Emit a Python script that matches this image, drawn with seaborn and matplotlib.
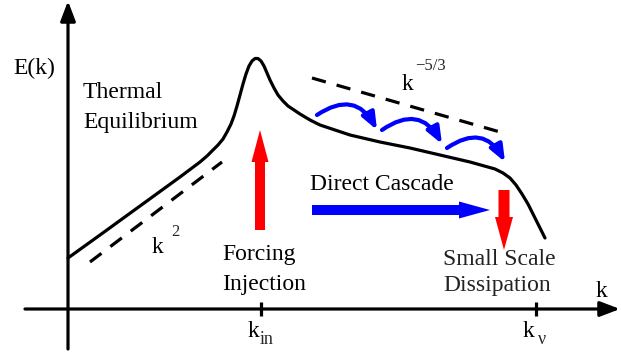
import matplotlib
matplotlib.use("Agg")
import matplotlib.pyplot as plt
from matplotlib.patches import FancyArrowPatch
import seaborn as sns
import pandas as pd

sns.set_style("white")
plt.rcParams["font.family"] = ["Liberation Serif", "DejaVu Serif"]

# Energy spectrum E(k), schematic (canvas units, y grows downward)
spec_k = [68, 100, 140, 180, 200, 207, 213, 218, 223, 227, 231, 234, 237, 240,
          243, 246, 249, 252, 255, 258, 261, 264, 267, 270, 274, 278, 283, 288,
          294, 300, 310, 320, 335, 350, 380, 410, 440, 470, 495, 503, 510, 516,
          522, 528, 533, 538, 542, 545]
spec_E = [258, 235, 206, 177, 162, 156, 150, 145, 139, 132, 124, 116, 106, 95,
          84, 74, 66, 61, 58.5, 58.5, 61, 66, 73, 80, 88, 95, 101, 106,
          110, 114, 120, 125, 130, 135, 142, 148, 155, 162, 169, 173, 178, 185,
          194, 204, 214, 224, 232, 238]

# Reference power laws
k2_k = [90, 222]
k2_E = [262, 162]
kol_k = [312, 507]
kol_E = [78, 134]

# Characteristic wavenumbers
tick_k = [261, 536]
tick_labels = [("k", "in"), ("k", "\u03bd")]

# Cascade hops along the inertial range
hop_start = [(317, 115), (382, 130), (447, 148)]
hop_end = [(377, 130), (442, 144), (505, 162)]

fig = plt.figure(figsize=(6.21, 3.54), dpi=100)
ax = fig.add_axes([0, 0, 1, 1])

curve = pd.DataFrame({"k": spec_k, "E": spec_E})
sns.lineplot(data=curve, x="k", y="E", sort=False, estimator=None,
             color="black", lw=2.3, ax=ax)
ax.lines[-1].set_solid_joinstyle("round")
sns.lineplot(x=k2_k, y=k2_E, sort=False, estimator=None, color="black",
             lw=2.3, ax=ax)
ax.lines[-1].set_dashes([4.5, 3.5])
sns.lineplot(x=kol_k, y=kol_E, sort=False, estimator=None, color="black",
             lw=2.3, ax=ax)
ax.lines[-1].set_dashes([4.5, 3.5])

ax.set_xlim(0, 621)
ax.set_ylim(354, 0)
ax.axis("off")

# Coordinate axes with arrow heads
head = "-|>,head_length=1.0,head_width=0.38"
ax.add_patch(FancyArrowPatch((68, 349), (68, 1), arrowstyle=head,
                             mutation_scale=12, color="black", lw=2.3, shrinkA=0, shrinkB=0))
ax.add_patch(FancyArrowPatch((25, 309), (620, 309), arrowstyle=head,
                             mutation_scale=12, color="black", lw=2.3, shrinkA=0, shrinkB=0))
for tk in tick_k:
    ax.plot([tk, tk], [302, 316], color="black", lw=2.3, solid_capstyle="butt")

# Forcing, cascade and dissipation arrows
ax.arrow(260, 230, 0, -100, width=10, head_width=17, head_length=32,
         length_includes_head=True, color="#ff0000", lw=0)
ax.arrow(504, 190, 0, 60, width=11, head_width=18, head_length=33,
         length_includes_head=True, color="#ff0000", lw=0)
ax.arrow(312, 210, 178, 0, width=10, head_width=17, head_length=31,
         length_includes_head=True, color="#0000ff", lw=0)
for a, b in zip(hop_start, hop_end):
    ax.add_patch(FancyArrowPatch(a, b, connectionstyle="arc3,rad=-0.55",
                                 arrowstyle="-|>,head_length=1.0,head_width=0.4",
                                 mutation_scale=10, color="#0000ff", lw=3.0,
                                 shrinkA=0, shrinkB=0))

fs = 17
txt = dict(fontsize=fs, color="black", va="baseline", ha="left")
ax.text(13, 74, "E(k)", **txt)
ax.text(83, 98, "Thermal", **txt)
ax.text(83, 128, "Equilibrium", **txt)
ax.text(310, 190, "Direct Cascade", **txt)
ax.text(222, 260, "Forcing", **txt)
ax.text(222, 290, "Injection", **txt)
ax.text(443, 265, "Small Scale", fontsize=fs, color="#222222", va="baseline", ha="left")
ax.text(443, 291, "Dissipation", fontsize=fs, color="#222222", va="baseline", ha="left")
ax.text(596, 297, "k", **txt)

# Power-law labels
ax.text(402, 90, "k", **txt)
ax.text(415, 70, "\u22125/3", fontsize=12, va="baseline", ha="left")
ax.text(152, 253, "k", **txt)
ax.text(171, 236, "2", fontsize=12, va="baseline", ha="left")

# Tick labels
for tk, (base, sub) in zip(tick_k, tick_labels):
    ax.text(tk - 13, 337, base, **txt)
    ax.text(tk - 1 + (3 if sub == "\u03bd" else 0), 344, sub, fontsize=13,
            va="baseline", ha="left")

fig.savefig("out.png", dpi=100)
